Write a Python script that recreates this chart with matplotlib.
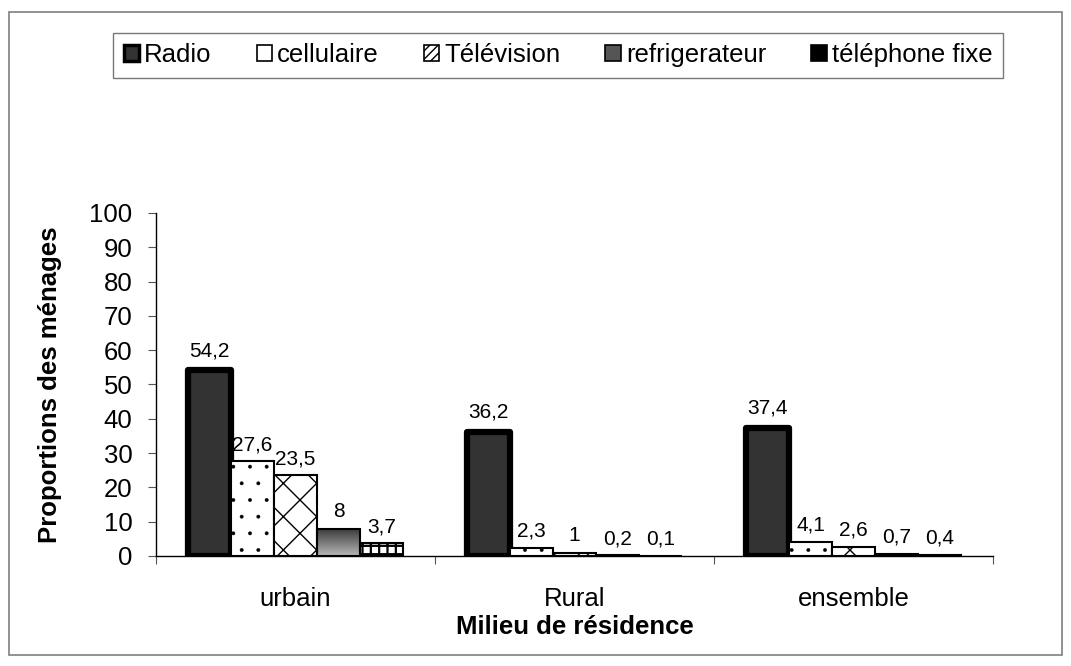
import numpy as np
import matplotlib
matplotlib.use("Agg")
import matplotlib.pyplot as plt
from matplotlib.patches import Patch, Rectangle

plt.rcParams['font.family'] = ['Liberation Sans', 'DejaVu Sans']
plt.rcParams['hatch.linewidth'] = 1.0

# data
milieux = ['urbain', 'Rural', 'ensemble']
equipements = ['Radio', 'cellulaire', 'Télévision', 'refrigerateur', 'téléphone fixe']
radio = [54.2, 36.2, 37.4]
cellulaire = [27.6, 2.3, 4.1]
television = [23.5, 1, 2.6]
refrigerateur = [8, 0.2, 0.7]
telephone = [3.7, 0.1, 0.4]
series = [radio, cellulaire, television, refrigerateur, telephone]

fig = plt.figure(figsize=(10.71, 6.66), dpi=100)
ax = fig.add_axes([0.1457, 0.1652, 0.7815, 0.515])

# outer frame
fig.patches.append(Rectangle((0.0084, 0.0165), 0.983, 0.965, transform=fig.transFigure,
                             fill=False, edgecolor='#7f7f7f', linewidth=1.2))

x = np.arange(len(milieux))
w = 0.154
styles = [
    dict(facecolor='#333333', edgecolor='black', linewidth=4.5, joinstyle='round'),
    dict(facecolor='white', edgecolor='black', linewidth=1.5, hatch='.'),
    dict(facecolor='white', edgecolor='black', linewidth=1.5, hatch='x'),
    dict(facecolor='none', edgecolor='black', linewidth=1.5),
    dict(facecolor='white', edgecolor='black', linewidth=1.5, hatch='++'),
]
hatch_lw = [1.0, 0.3, 1.0, 1.0, 1.6]

containers = []
for i, (vals, st) in enumerate(zip(series, styles)):
    with plt.rc_context({'hatch.linewidth': hatch_lw[i]}):
        bc = ax.bar(x + (i - 2) * w, vals, w, zorder=3, **st)
    containers.append(bc)

# gradient fill for refrigerateur
grad = np.linspace(0.22, 0.72, 100).reshape(-1, 1)
for b in containers[3]:
    x0, wb, h = b.get_x(), b.get_width(), b.get_height()
    im = ax.imshow(grad, cmap='gray', vmin=0, vmax=1, aspect='auto',
                   extent=[x0, x0 + wb, 0, h], zorder=2)
    im.set_clip_path(b)

ax.set_xlim(-0.5, 2.5)
ax.set_ylim(0, 100)

# value labels
for i, bc in enumerate(containers):
    for b, v in zip(bc, series[i]):
        txt = ('%g' % v).replace('.', ',')
        ax.annotate(txt, (b.get_x() + b.get_width() / 2, v), xytext=(0, 10 if i == 0 else 8),
                    textcoords='offset points', ha='center', va='baseline', fontsize=15)

ax.spines['top'].set_visible(False)
ax.spines['right'].set_visible(False)
ax.spines['left'].set_linewidth(1.0)
ax.spines['bottom'].set_linewidth(1.0)

ax.set_yticks(np.arange(0, 101, 10))
ax.tick_params(axis='y', direction='out', length=6, width=0.8, color='#555555', labelsize=18.5, pad=11)
ax.set_xticks([-0.5, 0.5, 1.5, 2.5])
ax.set_xticklabels([])
ax.tick_params(axis='x', which='major', direction='out', length=6, width=0.8, color='#555555')
ax.set_xticks(x, minor=True)
ax.set_xticklabels(milieux, minor=True)
ax.tick_params(axis='x', which='minor', length=0, labelsize=18.5, pad=22)

ax.set_xlabel('Milieu de résidence', fontsize=18.5, fontweight='bold', labelpad=3)
ax.set_ylabel('Proportions des ménages', fontsize=18.5, fontweight='bold', labelpad=20)

handles = [
    Patch(facecolor='#333333', edgecolor='black', linewidth=2.5),
    Patch(facecolor='white', edgecolor='black', linewidth=1.2),
    Patch(facecolor='white', edgecolor='black', linewidth=1.2, hatch='////'),
    Patch(facecolor='#555555', edgecolor='black', linewidth=1.2),
    Patch(facecolor='black', edgecolor='black', linewidth=1.2),
]
leg = fig.legend(handles, equipements, loc='center', bbox_to_anchor=(0.521, 0.917), ncol=5,
                 fontsize=18.5, frameon=True, fancybox=False, handlelength=0.6, handleheight=0.6,
                 handletextpad=0.2, columnspacing=1.75, borderpad=0.4)
leg.get_frame().set_edgecolor('#555555')
leg.get_frame().set_linewidth(1.0)

fig.savefig('out.png', dpi=100)
